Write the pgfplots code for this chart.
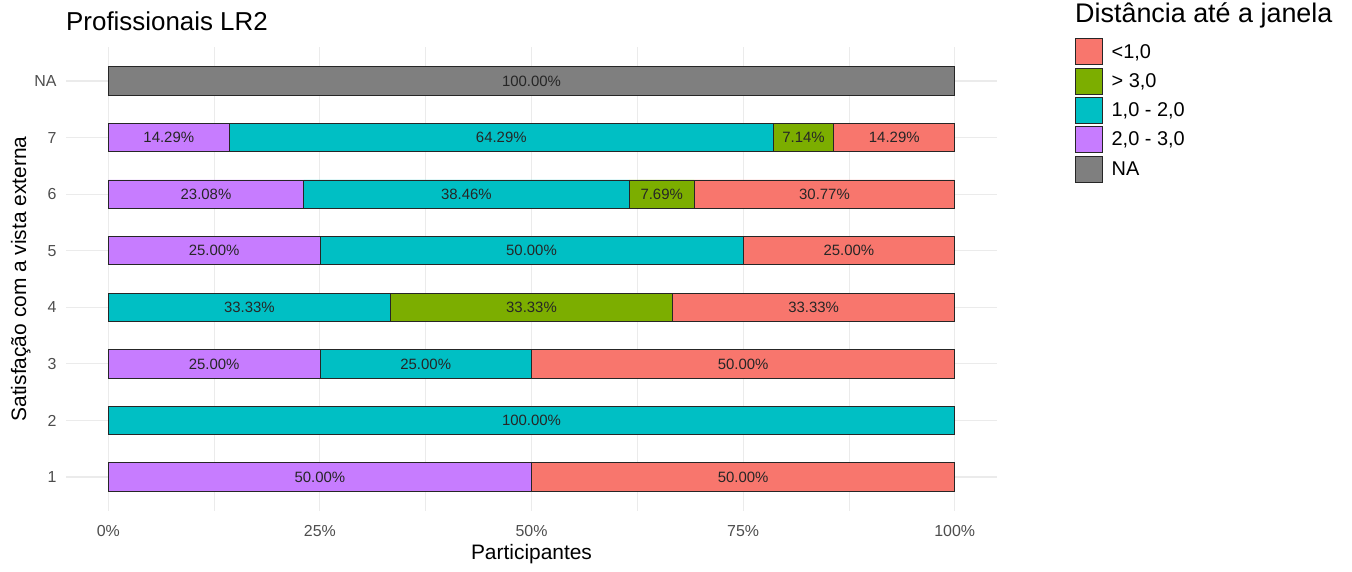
\documentclass[border=0pt]{standalone}
\usepackage{fontspec}
\setmainfont{Liberation Sans}
\usepackage{pgfplots}
\pgfplotsset{compat=1.18}
\definecolor{cRed}{HTML}{F8766D}
\definecolor{cGreen}{HTML}{7CAE00}
\definecolor{cCyan}{HTML}{00BFC4}
\definecolor{cPurple}{HTML}{C77CFF}
\definecolor{cGrey}{HTML}{7F7F7F}
\definecolor{gridc}{HTML}{EBEBEB}
\definecolor{tickc}{HTML}{4D4D4D}
\begin{document}
\begin{tikzpicture}
\path[use as bounding box] (0,0) rectangle (1352bp,572bp);
\begin{axis}[
  at={(66bp,61bp)}, anchor=south west,
  scale only axis, width=931bp, height=464bp,
  xmin=-5, xmax=105, ymin=0.4, ymax=8.6,
  xbar stacked, bar width=28.3bp,
  axis line style={draw=none},
  major tick length=0pt, minor tick length=0pt,
  xtick={0,25,50,75,100},
  xticklabels={0\%,25\%,50\%,75\%,100\%},
  minor xtick={12.5,37.5,62.5,87.5},
  ytick={1,2,3,4,5,6,7,8},
  yticklabels={1,2,3,4,5,6,7,NA},
  xmajorgrids, ymajorgrids, xminorgrids,
  major grid style={gridc, line width=1.1bp},
  minor grid style={gridc, line width=0.6bp},
  ticklabel style={font=\fontsize{16}{19}\selectfont, text=tickc},
  xticklabel style={yshift=-11bp},
  yticklabel style={xshift=-6bp},
  xlabel={Participantes},
  ylabel={Satisfação com a vista externa},
  label style={font=\fontsize{21}{25}\selectfont},
  xlabel style={yshift=-1bp},
  ylabel style={yshift=-3bp},
  title={Profissionais LR2},
  title style={font=\fontsize{26}{30}\selectfont, at={(rel axis cs:0,1)}, anchor=base west, yshift=11bp, xshift=0bp, inner sep=0pt},
  legend style={at={(rel axis cs:1.0838,1.019)}, anchor=north west, draw=none, fill=none,
    font=\fontsize{20}{24}\selectfont, inner sep=0pt, row sep=2.5bp,
    /tikz/every even column/.append style={column sep=0bp}},
  legend cell align=left,
  legend image code/.code={\draw[#1, line width=0.8bp] (0bp,-13bp) rectangle (27bp,13bp);},
  every axis plot/.append style={draw=black!85, line width=0.8bp},
  clip=false,
]
\addlegendimage{fill=cRed}\addlegendentry{\,\,<1,0}
\addlegendimage{fill=cGreen}\addlegendentry{\,\,> 3,0}
\addlegendimage{fill=cCyan}\addlegendentry{\,\,1,0 - 2,0}
\addlegendimage{fill=cPurple}\addlegendentry{\,\,2,0 - 3,0}
\addlegendimage{fill=cGrey}\addlegendentry{\,\,NA}
% 2,0 - 3,0
\addplot[fill=cPurple, forget plot] coordinates {(50,1) (0,2) (25,3) (0,4) (25,5) (23.08,6) (14.29,7) (0,8)};
% 1,0 - 2,0
\addplot[fill=cCyan, forget plot] coordinates {(0,1) (100,2) (25,3) (33.33,4) (50,5) (38.46,6) (64.29,7) (0,8)};
% > 3,0
\addplot[fill=cGreen, forget plot] coordinates {(0,1) (0,2) (0,3) (33.33,4) (0,5) (7.69,6) (7.14,7) (0,8)};
% <1,0
\addplot[fill=cRed, forget plot] coordinates {(50,1) (0,2) (50,3) (33.34,4) (25,5) (30.77,6) (14.28,7) (0,8)};
% NA
\addplot[fill=cGrey, forget plot] coordinates {(0,1) (0,2) (0,3) (0,4) (0,5) (0,6) (0,7) (100,8)};
\end{axis}
\begin{axis}[
  at={(66bp,61bp)}, anchor=south west,
  scale only axis, width=931bp, height=464bp,
  xmin=-5, xmax=105, ymin=0.4, ymax=8.6,
  hide axis, clip=false,
]
\addplot[only marks, mark=none, point meta=explicit symbolic,
  nodes near coords, nodes near coords style={anchor=center, font=\fontsize{15}{18}\selectfont, text=black!85, inner sep=0pt}]
  coordinates {
  (25,1) [50.00\%] (75,1) [50.00\%]
  (50,2) [100.00\%]
  (12.5,3) [25.00\%] (37.5,3) [25.00\%] (75,3) [50.00\%]
  (16.665,4) [33.33\%] (50,4) [33.33\%] (83.335,4) [33.33\%]
  (12.5,5) [25.00\%] (50,5) [50.00\%] (87.5,5) [25.00\%]
  (11.54,6) [23.08\%] (42.31,6) [38.46\%] (65.385,6) [7.69\%] (84.615,6) [30.77\%]
  (7.145,7) [14.29\%] (46.43,7) [64.29\%] (82.145,7) [7.14\%] (92.86,7) [14.29\%]
  (50,8) [100.00\%]
  };
\node[anchor=base west, font=\fontsize{27}{31}\selectfont, inner sep=0pt] at (rel axis cs:1.0838,1.052) {Distância até a janela};
\end{axis}
\end{tikzpicture}
\end{document}
